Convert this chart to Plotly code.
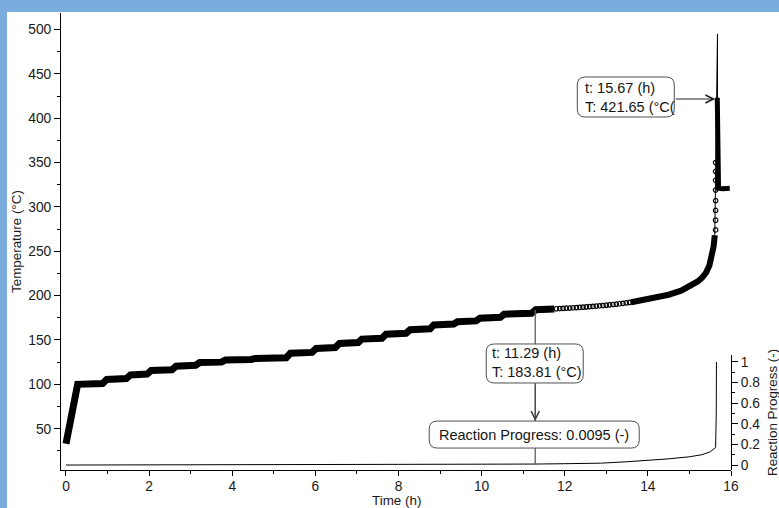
import plotly.graph_objects as go

# ---------------- data ----------------
# Temperature: stepped ramp (dense markers -> drawn as thick line)
stair_t = [0.00, 0.28, 0.88, 0.98, 1.45, 1.55, 1.95, 2.05, 2.55, 2.65, 3.12, 3.22, 3.74, 3.84,
           4.45, 4.55, 5.30, 5.40, 5.92, 6.02, 6.48, 6.58, 7.03, 7.12, 7.60, 7.70, 8.18, 8.28,
           8.76, 8.85, 9.33, 9.42, 9.87, 9.96, 10.45, 10.54, 11.20, 11.30, 11.75]
stair_T = [33, 100, 101, 105.5, 106.5, 110.5, 111.5, 115.5, 116.5, 120.5, 121.5, 124.5, 125, 127.5,
           128, 129, 130, 135, 136, 140.5, 141.5, 146, 147, 151, 152, 156.5, 157.5, 161.5,
           162.5, 167, 168, 170.5, 171.5, 174.5, 175.5, 179, 180, 184, 185]

# Temperature: sparse open circles after the last step
circ_t = [11.80, 11.88, 11.96, 12.04, 12.12, 12.20, 12.28, 12.36, 12.44, 12.52, 12.60, 12.68,
          12.76, 12.84, 12.92, 13.00, 13.08, 13.16, 13.24, 13.32, 13.40, 13.48, 13.56, 13.64]
circ_T = [185.2, 185.4, 185.6, 185.8, 186.0, 186.3, 186.5, 186.8, 187.0, 187.3, 187.6, 187.9,
          188.2, 188.5, 188.8, 189.2, 189.6, 190.0, 190.4, 190.8, 191.3, 191.8, 192.3, 192.9]

# Temperature: dense self-heating tail
tail_t = [13.60, 14.00, 14.50, 14.80, 15.00, 15.20, 15.30, 15.40, 15.48, 15.54, 15.58, 15.61]
tail_T = [192.5, 196, 201, 205.5, 210, 216, 220, 226, 234, 244, 255, 268]

# Temperature: runaway rise (circles), spike (thin line), fall and plateau
rise_t = [15.63, 15.63, 15.63, 15.63, 15.63, 15.63, 15.63, 15.63]
rise_T = [274, 285, 296, 307, 319, 330, 340, 350]
spike_t = [15.61, 15.675, 15.675]
spike_T = [268, 495, 421.65]
fall_t = [15.67, 15.675, 15.68, 15.69, 15.70, 15.80, 15.90, 15.97]
fall_T = [423, 380, 350, 330, 321, 320.5, 320.5, 321]

# Reaction progress
rp_t = [0, 4, 8, 10, 11.29, 12, 12.86, 13.5, 14, 14.5, 15, 15.3, 15.5, 15.6, 15.63, 15.645, 15.65]
rp_v = [0, 0.001, 0.003, 0.006, 0.0095, 0.013, 0.018, 0.032, 0.045, 0.06, 0.08, 0.1, 0.128,
        0.155, 0.17, 0.5, 0.998]

# Cursor read-outs
cur1_t, cur1_T, cur1_rp = 11.29, 183.81, 0.0095
cur2_t, cur2_T = 15.67, 421.65

# Axis titles
x_title = "Time (h)"
y_title = "Temperature (°C)"
y2_title = "Reaction Progress (-)"

# ---------------- layout constants ----------------
W, H = 779, 508
ML, MR, MT, MB = 61, 48, 13, 38
x_range = [-0.12, 16.0]
y_range = [3.4, 518.6]
y2_range = [-0.048, 1.065]
y2_dom = [0, 0.2516]
plot_h = H - MT - MB
plot_w = W - ML - MR
FONT = "Liberation Sans, Arial, sans-serif"
BLUE = "#7BACDE"

pxT = plot_h / (y_range[1] - y_range[0])
pxR = plot_h * (y2_dom[1] - y2_dom[0]) / (y2_range[1] - y2_range[0])
yT1 = MT + (y_range[1] - cur1_T) * pxT
yR1 = H - MB - (cur1_rp - y2_range[0]) * pxR
vline_len = yR1 - yT1


def px_x(px):
    return (px - ML) / plot_w


def px_y(py):
    return (H - MB - py) / plot_h


fig = go.Figure()

fig.add_trace(go.Scatter(x=rp_t, y=rp_v, yaxis="y2", mode="lines",
                         line=dict(color="black", width=1), hoverinfo="skip"))
fig.add_trace(go.Scatter(x=stair_t, y=stair_T, mode="lines",
                         line=dict(color="black", width=7), hoverinfo="skip"))
fig.add_trace(go.Scatter(x=tail_t, y=tail_T, mode="lines",
                         line=dict(color="black", width=6), hoverinfo="skip"))
fig.add_trace(go.Scatter(x=circ_t + rise_t, y=circ_T + rise_T, mode="markers",
                         marker=dict(symbol="circle-open", size=4.5, color="black",
                                     line=dict(width=1.2, color="black")), hoverinfo="skip"))
fig.add_trace(go.Scatter(x=spike_t, y=spike_T, mode="lines",
                         line=dict(color="black", width=1), hoverinfo="skip"))
fig.add_trace(go.Scatter(x=fall_t, y=fall_T, mode="lines",
                         line=dict(color="black", width=5), hoverinfo="skip"))


def rrect(L, R, T, B, r=8):
    # pixel offsets, y up
    return (f"M{L + r},{T} H{R - r} Q{R},{T} {R},{T - r} V{B + r} Q{R},{B} {R - r},{B} "
            f"H{L + r} Q{L},{B} {L},{B + r} V{T - r} Q{L},{T} {L + r},{T} Z")


shapes = [
    # white chart area inside the blue frame
    dict(type="rect", xref="paper", yref="paper", layer="below",
         x0=px_x(7), x1=px_x(W + 5), y0=px_y(H + 5), y1=px_y(12),
         fillcolor="white", line=dict(width=0)),
    # cursor vertical line
    dict(type="line", xref="x", yref="y", xsizemode="pixel", ysizemode="pixel",
         xanchor=cur1_t, yanchor=cur1_T, x0=0, x1=0, y0=0, y1=-vline_len,
         line=dict(color="#606060", width=1.3)),
    # boxes
    dict(type="path", xref="x", yref="y", xsizemode="pixel", ysizemode="pixel",
         xanchor=cur1_t, yanchor=cur1_T, path=rrect(-49, 48, -34, -73),
         fillcolor="white", line=dict(color="#505050", width=1)),
    dict(type="path", xref="x", yref="y2", xsizemode="pixel", ysizemode="pixel",
         xanchor=cur1_t, yanchor=cur1_rp, path=rrect(-106, 104, 43, 16),
         fillcolor="white", line=dict(color="#505050", width=1)),
    dict(type="path", xref="x", yref="y", xsizemode="pixel", ysizemode="pixel",
         xanchor=cur2_t, yanchor=cur2_T, path=rrect(-140, -43, 22, -18),
         fillcolor="white", line=dict(color="#505050", width=1)),
]

afont = dict(family=FONT, size=14.5, color="#151515")
ttl_font = dict(family=FONT, size=13.4, color="#1a1a1a")
annotations = [
    dict(x=cur1_t, y=cur1_T, xref="x", yref="y", showarrow=False,
         text=f"t: {cur1_t:.2f} (h)<br>T: {cur1_T:.2f} (°C)", align="left",
         xanchor="left", yanchor="middle", xshift=-45, yshift=-53, font=afont),
    dict(x=cur1_t, y=cur1_rp, xref="x", yref="y2", showarrow=False,
         text=f"Reaction Progress: {cur1_rp:.4f} (-)", xanchor="center", yanchor="middle",
         xshift=-1, yshift=29, font=afont),
    dict(x=cur2_t, y=cur2_T, xref="x", yref="y", showarrow=False,
         text=f"t: {cur2_t:.2f} (h)<br>T: {cur2_T:.2f} (°C(", align="left",
         xanchor="left", yanchor="middle", xshift=-134, yshift=1.5, font=afont),
    # arrows
    dict(x=cur1_t, y=cur1_rp, xref="x", yref="y2", text="", showarrow=True,
         ax=0, ay=-81, standoff=43, arrowhead=5, arrowsize=1.6, arrowwidth=1,
         arrowcolor="#404040"),
    dict(x=cur2_t, y=cur2_T, xref="x", yref="y", text="", showarrow=True,
         ax=-43, ay=0, standoff=2, arrowhead=5, arrowsize=1.6, arrowwidth=1,
         arrowcolor="#202020"),
    # axis titles
    dict(x=px_x(396), y=px_y(500.5), xref="paper", yref="paper", showarrow=False,
         text=x_title, xanchor="center", yanchor="middle", font=ttl_font),
    dict(x=px_x(16.5), y=px_y(241.5), xref="paper", yref="paper", showarrow=False,
         text=y_title, textangle=-90, xanchor="center", yanchor="middle", font=ttl_font),
    dict(x=px_x(772.5), y=px_y(412.5), xref="paper", yref="paper", showarrow=False,
         text=y2_title, textangle=-90, xanchor="center", yanchor="middle", font=ttl_font),
]

tfont = dict(family=FONT, size=13.8, color="#1a1a1a")
axis_common = dict(showgrid=False, zeroline=False, showline=True, linecolor="black",
                   linewidth=1, ticks="outside", tickcolor="black", tickwidth=1,
                   tickfont=tfont, automargin=False)

fig.update_layout(
    width=W, height=H,
    margin=dict(l=ML, r=MR, t=MT, b=MB, pad=0, autoexpand=False),
    paper_bgcolor=BLUE, plot_bgcolor="rgba(0,0,0,0)",
    showlegend=False,
    font=dict(family=FONT, color="#1a1a1a"),
    xaxis=dict(range=x_range, tick0=0, dtick=2, ticklen=5, ticklabelstandoff=-2,
               minor=dict(dtick=1, tick0=0, ticklen=3, ticks="outside", tickcolor="black"),
               anchor="y", **axis_common),
    yaxis=dict(range=y_range, tick0=0, dtick=50, ticklen=6, domain=[0, 1],
               minor=dict(dtick=25, tick0=0, ticklen=3, ticks="outside", tickcolor="black"),
               anchor="x", **axis_common),
    yaxis2=dict(range=y2_range, domain=y2_dom, anchor="x", side="right",
                tick0=0, dtick=0.2, ticklen=6,
                minor=dict(dtick=0.1, tick0=0, ticklen=3, ticks="outside", tickcolor="black"),
                **axis_common),
    shapes=shapes,
    annotations=annotations,
)

fig.write_html("out.html")
